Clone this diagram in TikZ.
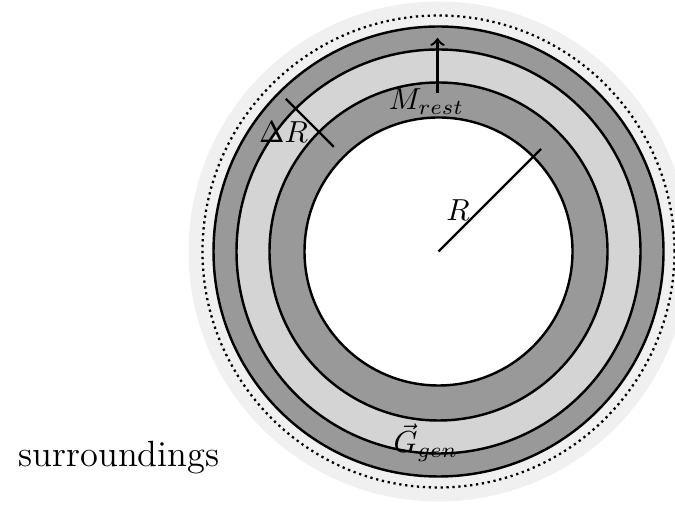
\documentclass[tikz,border=0pt]{standalone}
\usetikzlibrary{calc}
\begin{document}
\begin{tikzpicture}[x=0.329pt,y=0.329pt,
  ring/.style={draw=black,line width=0.8pt},
  darkband/.style={ring,fill=black!40},
  lightband/.style={ring,fill=black!17},
  bgdisc/.style={fill=black!6},
  dotring/.style={draw=black,line width=0.75pt,dash pattern=on 0.75pt off 1.2pt},
  marker/.style={line width=0.8pt},
  lbl/.style={anchor=base,inner sep=0pt}]
\useasboundingbox (0,0) rectangle (675,505);
\coordinate (O) at (438.5,253.5);
\fill[bgdisc] (O) circle[radius=250*0.329pt];
\draw[dotring] (O) circle[radius=236*0.329pt];
\draw[darkband] (O) circle[radius=225*0.329pt];
\draw[lightband] (O) circle[radius=202*0.329pt];
\draw[darkband] (O) circle[radius=169*0.329pt];
\draw[ring,fill=white] (O) circle[radius=134*0.329pt];
% R line
\coordinate (Rend) at ($(O)+(45:145*0.329pt)$);
\draw[marker] (O) -- (Rend);
\node[lbl] (Rlbl) at (458,284.5) {$R$};
% Delta R
\coordinate (DRa) at ($(O)+(135:216*0.329pt)$);
\coordinate (DRb) at ($(O)+(135:148*0.329pt)$);
\draw[marker] (DRa) -- (DRb);
\node[lbl] (DRlbl) at (283.5,362) {$\Delta R$};
% M rest arrow
\coordinate (Ma) at (437.5,412);
\coordinate (Mb) at (437.5,467);
\draw[marker,->] (Ma) -- (Mb);
\node[lbl] (Mlbl) at (426.5,395) {$M_{rest}$};
% G gen
\node[lbl] (Glbl) at (426,52) {$\vec{G}_{gen}$};
% surroundings
\node[lbl,font=\large] (surr) at (119,38) {surroundings};
\end{tikzpicture}
\end{document}
